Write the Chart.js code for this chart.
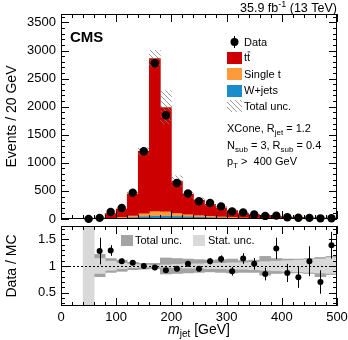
<!DOCTYPE html>
<html><head><meta charset="utf-8">
<script src="https://cdn.jsdelivr.net/npm/chart.js@4.4.1/dist/chart.umd.min.js"></script>
<style>
html,body{margin:0;padding:0;background:#fff;overflow:hidden}
#wrap{position:relative;width:348px;height:340px;background:#fff}
canvas{position:absolute;left:0}
</style></head><body>
<div id="wrap">
<canvas id="top" width="348" height="232" style="top:0;width:348px;height:232px"></canvas>
<canvas id="bot" width="348" height="118" style="top:222px;width:348px;height:118px"></canvas>
</div>
<script>
// ---- data (bins of 20 GeV, centres) ----
const binCenters = [10,30,50,70,90,110,130,150,170,190,210,230,250,270,290,310,330,350,370,390,410,430,450,470,490];
const dataEvents = [null,null,2,20,125,195,470,1206,2772,1846,640,455,315,285,225,135,118,80,55,60,30,22,20,12,14];
const ttbar      = [null,null,null,9,74,138,380,1101,2713,1845,565,352,260,201,150,110,72,51,44,28,20,17,9,9,4];
const singleTop  = [null,null,null,2,8,15,30,55,85,80,55,40,30,24,19,15,12,9,7,6,5,4,3,3,2];
const wjets      = [null,null,null,5,15,25,35,50,60,60,55,48,42,36,30,25,20,17,14,11,9,7,6,5,4];
const ratioVals  = [null,null,null,1.28,1.29,1.09,1.06,1.00,0.97,0.92,0.95,1.04,0.95,1.09,1.13,0.90,1.14,1.04,0.85,1.33,0.87,0.79,1.09,0.70,1.39];
const ratioErr   = [null,null,null,0.25,0.10,0.05,0.03,0.02,0.02,0.02,0.04,0.05,0.05,0.06,0.07,0.08,0.10,0.11,0.12,0.20,0.17,0.20,0.28,0.22,0.25];
const totLo  = [null,null,null,0.80,0.88,0.90,0.93,0.94,0.95,0.85,0.86,0.87,0.88,0.89,0.88,0.87,0.88,0.88,0.83,0.86,0.87,0.87,0.86,0.80,0.84];
const totHi  = [null,null,null,1.22,1.14,1.11,1.07,1.05,1.05,1.15,1.14,1.13,1.12,1.11,1.12,1.13,1.10,1.11,1.18,1.14,1.13,1.13,1.14,1.16,1.18];
const statLo = [null,null,0.25,0.86,0.92,0.95,0.97,0.98,0.99,0.98,0.97,0.96,0.96,0.95,0.95,0.94,0.94,0.93,0.92,0.91,0.90,0.89,0.88,0.87,0.86];
const statHi = [null,null,1.75,1.14,1.09,1.05,1.03,1.02,1.01,1.02,1.03,1.04,1.04,1.05,1.05,1.06,1.06,1.07,1.08,1.09,1.10,1.11,1.12,1.13,1.16];
const xTickValues = [0,100,200,300,400,500];
const yTopTickValues = [0,500,1000,1500,2000,2500,3000,3500];
const yRatioTickValues = [0.5,1,1.5];

// ---- styles ----
const FONT = "'Liberation Sans', Arial, Helvetica, sans-serif";
Chart.defaults.font.family = FONT;
Chart.defaults.color = '#000';
const C_TT = '#cc0000', C_ST = '#fd9a3a', C_WJ = '#1a8ccc';
const C_TOT = '#a3a3a3', C_STAT = '#d9d9d9';

function makeHatch(){
  const c=document.createElement('canvas'); c.width=5; c.height=5;
  const g=c.getContext('2d'); g.strokeStyle='rgba(120,120,120,0.75)'; g.lineWidth=1;
  g.beginPath(); g.moveTo(0,0); g.lineTo(5,5); g.moveTo(-1,4); g.lineTo(1,6); g.moveTo(4,-1); g.lineTo(6,1); g.stroke();
  return g.createPattern(c,'repeat');
}
const hatch = makeHatch();

function floatBars(lo, hi){
  const out=[];
  binCenters.forEach((c,i)=>{ const a=lo(i), b=hi(i); if(a!=null && b!=null) out.push({x:c, y:[a,b]}); });
  return out;
}
const cumW = i => wjets[i];
const cumS = i => wjets[i]==null?null:wjets[i]+singleTop[i];
const cumT = i => wjets[i]==null?null:wjets[i]+singleTop[i]+ttbar[i];

function richText(ctx, x, y, parts, align){
  let w=0;
  parts.forEach(p=>{ ctx.font=(p.style||'')+' '+p.size+'px '+FONT; w+=ctx.measureText(p.t).width; });
  let cx = align==='right'? x-w : align==='center'? x-w/2 : x;
  parts.forEach(p=>{ ctx.font=(p.style||'')+' '+p.size+'px '+FONT; ctx.fillText(p.t, cx, y+(p.dy||0)); cx+=ctx.measureText(p.t).width; });
}

function drawFrameTicks(ctx, a, xs, ys, yMinor, yMajor, yMin, yMax){
  ctx.strokeStyle='#000'; ctx.lineWidth=1;
  ctx.strokeRect(Math.round(a.left)+0.5, Math.round(a.top)+0.5, Math.round(a.right-a.left)-1, Math.round(a.bottom-a.top)-1);
  ctx.beginPath();
  for(let v=0; v<=500; v+=20){
    const px=Math.round(xs.getPixelForValue(v))+0.5, L=(v%100===0)?8:4;
    ctx.moveTo(px,a.bottom); ctx.lineTo(px,a.bottom-L);
    ctx.moveTo(px,a.top); ctx.lineTo(px,a.top+L);
  }
  const start=Math.ceil(yMin/yMinor-1e-9);
  for(let k=start; k*yMinor<=yMax+1e-9; k++){
    const v=k*yMinor; const py=Math.round(ys.getPixelForValue(v))+0.5;
    const major=Math.abs(v/yMajor-Math.round(v/yMajor))<1e-6; const L=major?8:4;
    ctx.moveTo(a.left,py); ctx.lineTo(a.left+L,py);
    ctx.moveTo(a.right,py); ctx.lineTo(a.right-L,py);
  }
  ctx.stroke();
}

const topDeco = {
  id:'topDeco',
  afterDraw(chart){
    const {ctx, chartArea:a, scales:{x,y}} = chart;
    ctx.save();
    drawFrameTicks(ctx, a, x, y, 100, 500, 0, y.max);
    ctx.fillStyle='#000'; ctx.textBaseline='alphabetic';
    richText(ctx, 337, 11.5, [{t:'35.9 fb',size:12.5},{t:'-1',size:9,dy:-5},{t:' (13 TeV)',size:12.5}], 'right');
    richText(ctx, 70, 42, [{t:'CMS',size:15,style:'bold'}], 'left');
    const lx=227, tx=244;
    ctx.beginPath(); ctx.arc(234.5,42,4,0,Math.PI*2); ctx.fill();
    ctx.fillRect(234,36,1,12);
    ctx.textBaseline='middle';
    richText(ctx, tx, 42.5, [{t:'Data',size:11}], 'left');
    ctx.fillStyle=C_TT; ctx.fillRect(lx,52,15,12);
    ctx.fillStyle=C_ST; ctx.fillRect(lx,68,15,12);
    ctx.fillStyle=C_WJ; ctx.fillRect(lx,85,15,12);
    ctx.fillStyle=hatch; ctx.fillRect(lx,100,15,12);
    ctx.fillStyle='#000';
    richText(ctx, tx, 58, [{t:'tt',size:11}], 'left');
    ctx.font='11px '+FONT; const tw=ctx.measureText('t').width;
    ctx.fillRect(tx+tw+0.5,51.5,tw-0.5,0.8);
    richText(ctx, tx, 74.5, [{t:'Single t',size:11}], 'left');
    richText(ctx, tx, 91, [{t:'W+jets',size:11}], 'left');
    richText(ctx, tx, 106.5, [{t:'Total unc.',size:11}], 'left');
    ctx.textBaseline='alphabetic';
    richText(ctx, 227, 132, [{t:'XCone, R',size:11},{t:'jet',size:8,dy:3},{t:' = 1.2',size:11}], 'left');
    richText(ctx, 227, 148.5, [{t:'N',size:11},{t:'sub',size:8,dy:3},{t:' = 3, R',size:11},{t:'sub',size:8,dy:3},{t:' = 0.4',size:11}], 'left');
    richText(ctx, 227, 165, [{t:'p',size:11},{t:'T',size:8,dy:3},{t:' >  400 GeV',size:11}], 'left');
    ctx.restore();
  }
};

const botDeco = {
  id:'botDeco',
  afterDatasetsDraw(chart){
    const {ctx, chartArea:a, scales:{x,y}} = chart;
    ctx.save();
    ctx.strokeStyle='#000'; ctx.lineWidth=1; ctx.setLineDash([2,2]);
    const py=Math.round(y.getPixelForValue(1))+0.5;
    ctx.beginPath(); ctx.moveTo(a.left,py); ctx.lineTo(a.right,py); ctx.stroke();
    ctx.setLineDash([]);
    ctx.beginPath();
    binCenters.forEach((c,i)=>{
      if(ratioVals[i]==null) return;
      const px=Math.round(x.getPixelForValue(c))+0.5;
      ctx.moveTo(px, y.getPixelForValue(ratioVals[i]+ratioErr[i]));
      ctx.lineTo(px, y.getPixelForValue(ratioVals[i]-ratioErr[i]));
    });
    ctx.stroke();
    ctx.restore();
  },
  afterDraw(chart){
    const {ctx, chartArea:a, scales:{x,y}} = chart;
    ctx.save();
    drawFrameTicks(ctx, a, x, y, 0.1, 0.5, y.min, y.max);
    ctx.fillStyle=C_TOT; ctx.fillRect(121,13,12,11);
    ctx.fillStyle=C_STAT; ctx.fillRect(193,13,12,11);
    ctx.fillStyle='#000'; ctx.textBaseline='middle';
    richText(ctx, 135, 19, [{t:'Total unc.',size:11}], 'left');
    richText(ctx, 208, 19, [{t:'Stat. unc.',size:11}], 'left');
    ctx.textBaseline='alphabetic';
    richText(ctx, 199, 112, [{t:'m',size:14,style:'italic'},{t:'jet',size:10,dy:3},{t:' [GeV]',size:14}], 'center');
    ctx.restore();
  }
};

const fmt = v => String(v);
function noPad(s){ s.paddingTop=0; s.paddingBottom=0; s.paddingLeft=0; s.paddingRight=0; }

new Chart(document.getElementById('top'), {
  type:'bar',
  data:{ datasets:[
    {type:'scatter', label:'Data', order:0, data: binCenters.map((c,i)=>dataEvents[i]==null?null:{x:c,y:dataEvents[i]}).filter(Boolean),
      pointRadius:4.2, pointBackgroundColor:'#000', pointBorderWidth:0, showLine:false, clip:false},
    {label:'Total unc.', order:1, grouped:false, backgroundColor:hatch,
      data: floatBars(i=>cumT(i)==null?null:cumT(i)*totLo[i], i=>cumT(i)==null?null:cumT(i)*totHi[i])},
    {label:'tt', order:2, grouped:false, backgroundColor:C_TT, data: floatBars(cumS, cumT)},
    {label:'Single t', order:3, grouped:false, backgroundColor:C_ST, data: floatBars(cumW, cumS)},
    {label:'W+jets', order:4, grouped:false, backgroundColor:C_WJ, data: floatBars(i=>wjets[i]==null?null:0, cumW)}
  ]},
  options:{
    responsive:false, animation:false, devicePixelRatio:1,
    barPercentage:1, categoryPercentage:1,
    layout:{padding:{left:0,right:11,top:14,bottom:13}},
    plugins:{legend:{display:false}, tooltip:{enabled:false}},
    scales:{
      x:{type:'linear', min:0, max:500, offset:false, display:false, grid:{offset:false},
         afterBuildTicks(s){ s.ticks = xTickValues.map(v=>({value:v})); }, afterFit:noPad},
      y:{min:0, max:3650, grid:{display:false, drawTicks:false}, border:{display:false},
         afterBuildTicks(s){ s.ticks = yTopTickValues.map(v=>({value:v})); },
         ticks:{padding:5, font:{size:13}, callback:fmt},
         title:{display:true, text:'Events / 20 GeV', font:{size:14}, padding:{top:4,bottom:0}},
         afterFit(s){ s.width=61; noPad(s); }}
    }
  },
  plugins:[topDeco]
});

new Chart(document.getElementById('bot'), {
  type:'bar',
  data:{ datasets:[
    {type:'scatter', label:'Data/MC', order:0, data: binCenters.map((c,i)=>ratioVals[i]==null?null:{x:c,y:ratioVals[i]}).filter(Boolean),
      pointRadius:3, pointBackgroundColor:'#000', pointBorderWidth:0, showLine:false},
    {label:'Stat. unc.', order:1, grouped:false, backgroundColor:C_STAT, data: floatBars(i=>statLo[i], i=>statHi[i])},
    {label:'Total unc.', order:2, grouped:false, backgroundColor:C_TOT, data: floatBars(i=>totLo[i], i=>totHi[i])}
  ]},
  options:{
    responsive:false, animation:false, devicePixelRatio:1,
    barPercentage:1, categoryPercentage:1,
    layout:{padding:{left:0,right:11,top:4,bottom:0}},
    plugins:{legend:{display:false}, tooltip:{enabled:false}},
    scales:{
      x:{type:'linear', min:0, max:500, offset:false, grid:{display:false, drawTicks:false, offset:false}, border:{display:false},
         afterBuildTicks(s){ s.ticks = xTickValues.map(v=>({value:v})); },
         ticks:{padding:4, font:{size:13}, maxRotation:0, autoSkip:false, callback:fmt},
         afterFit(s){ s.height=34; noPad(s); }},
      y:{min:0.25, max:1.75, grid:{display:false, drawTicks:false}, border:{display:false},
         afterBuildTicks(s){ s.ticks = yRatioTickValues.map(v=>({value:v})); },
         ticks:{padding:5, font:{size:13}, callback:fmt},
         title:{display:true, text:'Data / MC', font:{size:14}, padding:{top:4,bottom:0}},
         afterFit(s){ s.width=61; noPad(s); }}
    }
  },
  plugins:[botDeco]
});
</script>
</body></html>
